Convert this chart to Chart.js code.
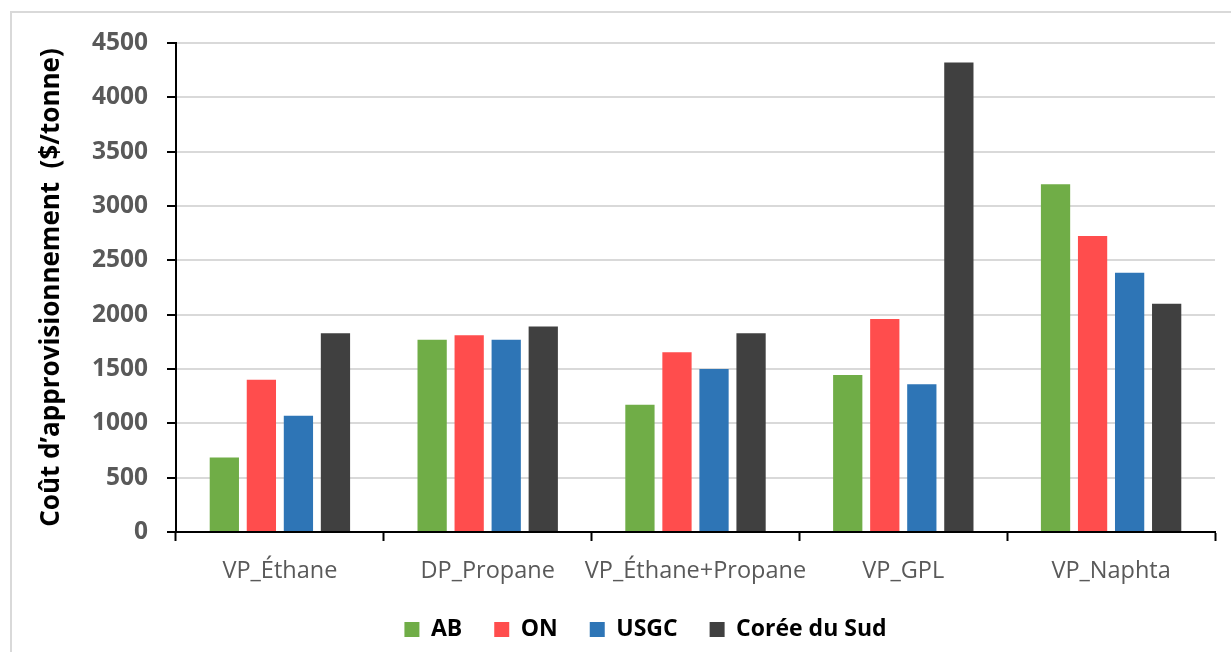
<!DOCTYPE html>
<html lang="fr">
<head>
<meta charset="utf-8">
<title>Coût d'approvisionnement</title>
<script src="https://cdn.jsdelivr.net/npm/chart.js@4/dist/chart.umd.min.js"></script>
<style>
  html, body { margin: 0; padding: 0; background: #ffffff; }
  #wrap { position: relative; width: 1231px; height: 652px; overflow: hidden; }
  #frame { position: absolute; left: 10px; top: 11px; width: 1300px; height: 700px;
           border: 2px solid #d9d9d9; box-sizing: border-box; }
  #chart { position: absolute; left: 0; top: 0; }
</style>
</head>
<body>
<div id="wrap">
  <div id="frame"></div>
  <canvas id="chart" width="1231" height="652"></canvas>
</div>
<script>
// Procédés et coûts d'approvisionnement ($/tonne) par région
const categories = ['VP_Éthane', 'DP_Propane', 'VP_Éthane+Propane', 'VP_GPL', 'VP_Naphta'];
const seriesNames = ['AB', 'ON', 'USGC', 'Corée du Sud'];
const valuesAB    = [685, 1770, 1170, 1445, 3200];
const valuesON    = [1400, 1810, 1655, 1960, 2725];
const valuesUSGC  = [1070, 1770, 1500, 1360, 2385];
const valuesCoree = [1830, 1890, 1830, 4320, 2100];
const yTicks = [0, 500, 1000, 1500, 2000, 2500, 3000, 3500, 4000, 4500];

const colors = ['#70ad47', '#ff4d4d', '#2e75b6', '#404040'];
const seriesValues = [valuesAB, valuesON, valuesUSGC, valuesCoree];

const FONT = '"Open Sans", "Noto Sans", sans-serif';

// nudges the bottom legend so its row sits under the middle of the page
const legendOffset = {
  id: 'legendOffset',
  afterLayout(chart) {
    const lg = chart.legend;
    if (lg) { lg.left += 28; lg.right += 28; }
  }
};

new Chart(document.getElementById('chart'), {
  type: 'bar',
  data: {
    labels: categories,
    datasets: seriesNames.map((name, i) => ({
      label: name,
      data: seriesValues[i],
      backgroundColor: colors[i],
      borderWidth: 0,
      categoryPercentage: 0.713,
      barPercentage: 0.79
    }))
  },
  options: {
    responsive: false,
    animation: false,
    layout: { padding: { left: 20, top: 43, right: 16, bottom: 1 } },
    plugins: {
      tooltip: { enabled: false },
      legend: {
        position: 'bottom',
        labels: {
          boxWidth: 15,
          boxHeight: 15,
          padding: 32,
          color: '#000000',
          font: { family: FONT, size: 23, weight: 'bold' }
        }
      }
    },
    scales: {
      x: {
        afterFit(scale) { scale.height = 54; },
        grid: {
          display: true,
          offset: true,
          drawOnChartArea: false,
          drawTicks: true,
          tickLength: 9,
          tickWidth: 2,
          tickColor: '#000000'
        },
        border: { display: true, color: '#000000', width: 2 },
        ticks: {
          color: '#595959',
          padding: 16,
          autoSkip: false,
          maxRotation: 0,
          font: { family: FONT, size: 23.5 }
        }
      },
      y: {
        min: 0,
        max: 4500,
        afterFit(scale) { scale.width = 156; },
        afterBuildTicks(scale) { scale.ticks = yTicks.map(v => ({ value: v })); },
        grid: {
          color: '#d9d9d9',
          lineWidth: 2,
          tickLength: 9,
          tickWidth: 2,
          tickColor: '#000000'
        },
        border: { display: true, color: '#000000', width: 2 },
        ticks: {
          color: '#595959',
          padding: 19,
          callback: (v) => String(v),
          font: { family: FONT, size: 24.5, weight: 'bold' }
        },
        title: {
          display: true,
          text: 'Coût d\u2019approvisionnement  ($/tonne)',
          color: '#000000',
          padding: { top: 16, bottom: 0 },
          font: { family: FONT, size: 26, weight: 'bold' }
        }
      }
    }
  },
  plugins: [legendOffset]
});
</script>
</body>
</html>
